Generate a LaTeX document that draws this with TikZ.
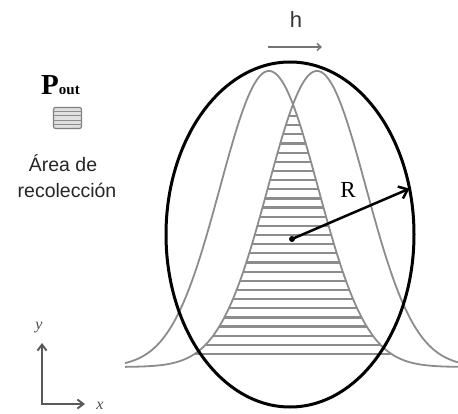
\documentclass[tikz,border=0pt]{standalone}
\usepackage{fontspec}
\setmainfont{Liberation Serif}
\newfontfamily\sansfam{Liberation Sans}
\usetikzlibrary{shapes.geometric,arrows.meta,calc}
\begin{document}
\begin{tikzpicture}[x=1pt,y=-1pt,
  declare function={ga(\x)=367-296*exp(-0.5*((\x-269)/49)^2);
                     gb(\x)=367-296*exp(-0.5*((\x-317)/49)^2);},
  gauss/.style={draw=black!45, line width=1.8pt},
  hatchline/.style={draw=black!45, line width=2.2pt},
  axisline/.style={draw=black!65, line width=1.9pt},
  barb/.style={-{Straight Barb[length=6pt,width=9pt]}}]
\useasboundingbox (0,0) rectangle (458,414);
\fill[white] (0,0) rectangle (458,414);

% hatched overlap region
\begin{scope}
  \clip plot[domain=188:402,samples=140] (\x,{max(ga(\x),gb(\x))}) -- cycle;
  \foreach \k in {0,...,27}
    \draw[hatchline] (180,{354-9.15*\k}) -- (410,{354-9.15*\k});
\end{scope}

% gaussian profiles
\draw[gauss] plot[domain=125:458,samples=160,smooth] (\x,{ga(\x)});
\draw[gauss] plot[domain=125:458,samples=160,smooth] (\x,{gb(\x)});

% collection ellipse
\node[draw, line width=3pt, ellipse, minimum width=248pt, minimum height=345pt,
      inner sep=0pt, outer sep=0pt] (E) at (290,234.5) {};

% radius arrow
\coordinate (O) at (292,239);
\fill (O) circle (3);
\draw[line width=2.5pt, -{Straight Barb[length=8pt,width=13pt]}] (O) -- (E.21);
\node[font=\fontsize{23}{23}\selectfont] (R) at (348,190) {R};

% h shift arrow
\coordinate (h1) at (268,47);
\coordinate (h2) at (322,47);
\draw[draw=black!55, line width=1.4pt, -{Straight Barb[length=4pt,width=7pt]}] (h1) -- (h2);
\node[font=\sansfam\fontsize{22}{22}\selectfont, text=black!80, anchor=base] (h) at (296,28) {h};

% legend
\node[anchor=base west, inner sep=0pt] (P) at (41,95)
  {\fontsize{29}{29}\selectfont\textbf{P}\fontsize{15}{15}\selectfont\textbf{out}};
\node[draw=black!50, fill=black!12, rounded corners=2pt, line width=1.2pt,
      minimum width=28pt, minimum height=21pt, inner sep=0pt] (box) at (67.5,118) {};
\foreach \t in {0.2,0.4,0.6,0.8}
  \draw[black!45, line width=0.9pt]
    ($(box.north west)!\t!(box.south west)$) -- ($(box.north east)!\t!(box.south east)$);
\node[font=\sansfam\fontsize{19.5}{19.5}\selectfont, text=black!85, anchor=base] (A1) at (63,172) {Área de};
\node[font=\sansfam\fontsize{19.5}{19.5}\selectfont, text=black!85, anchor=base] (A2) at (67,198) {recolección};

% axes
\coordinate (ax0) at (42,404);
\coordinate (axy) at (42,343);
\coordinate (axx) at (85,404);
\draw[axisline, {Straight Barb[length=6pt,width=9pt]}-{Straight Barb[length=6pt,width=9pt]}] (axy) -- (ax0) -- (axx);
\node[font=\itshape\fontsize{16}{16}\selectfont, text=black!70] (ylab) at (39,328) {y};
\node[font=\itshape\fontsize{16}{16}\selectfont, text=black!70] (xlab) at (100,406) {x};
\end{tikzpicture}
\end{document}
